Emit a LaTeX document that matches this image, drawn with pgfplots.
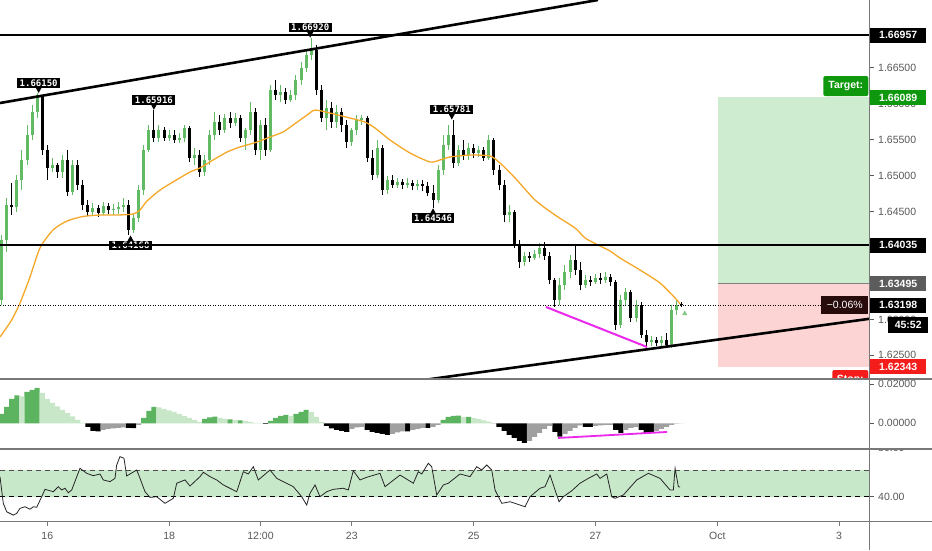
\documentclass[border=0pt]{standalone}
\usepackage{pgfplots}
\pgfplotsset{compat=1.18}
\usepackage{pgfplotstable}
\usepackage{fontspec}
\setmainfont{Liberation Sans}
\newfontfamily\monof{DejaVu Sans Mono}
\definecolor{cg}{RGB}{98,186,100}
\definecolor{ma}{RGB}{245,168,40}
\definecolor{mag}{RGB}{235,40,235}
\definecolor{posg}{RGB}{206,236,207}
\definecolor{posr}{RGB}{253,212,212}
\definecolor{tvg}{RGB}{14,152,14}
\definecolor{tvr}{RGB}{245,28,28}
\definecolor{dg}{RGB}{92,180,96}
\definecolor{lg}{RGB}{200,230,200}
\definecolor{gy}{RGB}{160,160,160}
\definecolor{band}{RGB}{200,232,202}
\definecolor{axc}{RGB}{120,120,120}
\definecolor{labc}{RGB}{88,88,88}
\definecolor{gbox}{RGB}{92,92,92}
\definecolor{darkm}{RGB}{40,12,12}
\newcommand\lf{\fontsize{10.5}{12}\selectfont}

\pgfplotstableread{
i o h l c
0 1.63270 1.64175 1.63200 1.64105
1 1.64105 1.64689 1.63938 1.64591
2 1.64591 1.64898 1.64452 1.64564
3 1.64564 1.65009 1.64494 1.64940
4 1.64940 1.65357 1.64800 1.65218
5 1.65218 1.65704 1.65148 1.65565
6 1.65565 1.65983 1.65496 1.65885
7 1.65885 1.66150 1.65802 1.66122
8 1.66095 1.66122 1.65287 1.65357
9 1.65357 1.65426 1.64940 1.65107
10 1.65107 1.65246 1.65051 1.65148
11 1.65148 1.65176 1.64968 1.65051
12 1.65051 1.65287 1.64968 1.65218
13 1.65218 1.65357 1.64717 1.64772
14 1.64772 1.65218 1.64730 1.65148
15 1.65148 1.65218 1.64800 1.64870
16 1.64870 1.64940 1.64522 1.64591
17 1.64591 1.64661 1.64439 1.64494
18 1.64494 1.64619 1.64439 1.64550
19 1.64550 1.64591 1.64425 1.64480
20 1.64480 1.64633 1.64452 1.64578
21 1.64578 1.64619 1.64466 1.64522
22 1.64522 1.64605 1.64452 1.64536
23 1.64536 1.64633 1.64466 1.64564
24 1.64564 1.64689 1.64494 1.64591
25 1.64591 1.64661 1.64168 1.64244
26 1.64244 1.64466 1.64200 1.64411
27 1.64411 1.64870 1.64355 1.64800
28 1.64800 1.65426 1.64730 1.65357
29 1.65357 1.65704 1.65329 1.65635
30 1.65635 1.65916 1.65468 1.65524
31 1.65524 1.65704 1.65468 1.65635
32 1.65635 1.65677 1.65482 1.65524
33 1.65524 1.65635 1.65482 1.65565
34 1.65565 1.65635 1.65454 1.65496
35 1.65496 1.65593 1.65454 1.65524
36 1.65524 1.65704 1.65468 1.65663
37 1.65663 1.65691 1.65190 1.65246
38 1.65246 1.65385 1.65148 1.65287
39 1.65287 1.65357 1.64982 1.65051
40 1.65051 1.65287 1.64996 1.65218
41 1.65218 1.65635 1.65148 1.65565
42 1.65565 1.65885 1.65496 1.65746
43 1.65746 1.65843 1.65565 1.65635
44 1.65635 1.65857 1.65593 1.65802
45 1.65802 1.65885 1.65663 1.65732
46 1.65732 1.65871 1.65691 1.65802
47 1.65802 1.65843 1.65468 1.65524
48 1.65524 1.65663 1.65357 1.65635
49 1.65635 1.66025 1.65565 1.65885
50 1.65885 1.65942 1.65287 1.65357
51 1.65357 1.65774 1.65218 1.65704
52 1.65704 1.65802 1.65274 1.65357
53 1.65357 1.66261 1.65329 1.66192
54 1.66192 1.66331 1.66053 1.66122
55 1.66122 1.66261 1.66025 1.66164
56 1.66164 1.66220 1.65997 1.66053
57 1.66053 1.66192 1.66025 1.66122
58 1.66122 1.66400 1.66053 1.66331
59 1.66331 1.66581 1.66261 1.66498
60 1.66498 1.66748 1.66442 1.66678
61 1.66678 1.66920 1.66609 1.66748
62 1.66748 1.66817 1.66122 1.66192
63 1.66192 1.66261 1.65746 1.65802
64 1.65802 1.66053 1.65635 1.65942
65 1.65942 1.66025 1.65663 1.65746
66 1.65746 1.65983 1.65663 1.65885
67 1.65885 1.65942 1.65607 1.65704
68 1.65704 1.65774 1.65385 1.65468
69 1.65468 1.65663 1.65413 1.65635
70 1.65635 1.65843 1.65565 1.65774
71 1.65774 1.65843 1.65704 1.65802
72 1.65802 1.65830 1.65190 1.65246
73 1.65246 1.65357 1.64940 1.65009
74 1.65009 1.65496 1.64968 1.65385
75 1.65385 1.65426 1.64730 1.64800
76 1.64800 1.64996 1.64744 1.64940
77 1.64940 1.65009 1.64829 1.64870
78 1.64870 1.64968 1.64829 1.64912
79 1.64912 1.64954 1.64815 1.64870
80 1.64870 1.64968 1.64829 1.64898
81 1.64898 1.64940 1.64800 1.64857
82 1.64857 1.64940 1.64800 1.64884
83 1.64884 1.64940 1.64786 1.64857
84 1.64857 1.64912 1.64717 1.64758
85 1.64758 1.64870 1.64546 1.64661
86 1.64661 1.65148 1.64619 1.65079
87 1.65079 1.65565 1.65009 1.65426
88 1.65426 1.65700 1.65357 1.65565
89 1.65565 1.65781 1.65107 1.65176
90 1.65176 1.65426 1.65135 1.65357
91 1.65357 1.65496 1.65218 1.65287
92 1.65287 1.65454 1.65218 1.65385
93 1.65385 1.65440 1.65246 1.65315
94 1.65315 1.65413 1.65260 1.65357
95 1.65357 1.65399 1.65204 1.65246
96 1.65246 1.65565 1.65218 1.65496
97 1.65496 1.65524 1.65009 1.65079
98 1.65079 1.65148 1.64800 1.64870
99 1.64870 1.64940 1.64355 1.64452
100 1.64452 1.64591 1.64355 1.64494
101 1.64494 1.64522 1.63994 1.64035
102 1.64035 1.64105 1.63715 1.63798
103 1.63798 1.63938 1.63743 1.63883
104 1.63883 1.63938 1.63798 1.63855
105 1.63855 1.63966 1.63826 1.63910
106 1.63910 1.64063 1.63855 1.63994
107 1.63994 1.64077 1.63826 1.63883
108 1.63883 1.63938 1.63492 1.63548
109 1.63548 1.63576 1.63173 1.63270
110 1.63270 1.63576 1.63200 1.63478
111 1.63478 1.63756 1.63409 1.63659
112 1.63659 1.63896 1.63576 1.63826
113 1.63826 1.64035 1.63617 1.63687
114 1.63687 1.63798 1.63409 1.63478
115 1.63478 1.63617 1.63437 1.63548
116 1.63548 1.63604 1.63465 1.63520
117 1.63520 1.63631 1.63492 1.63576
118 1.63576 1.63645 1.63492 1.63548
119 1.63548 1.63659 1.63506 1.63590
120 1.63590 1.63631 1.63465 1.63520
121 1.63520 1.63548 1.62852 1.62922
122 1.62922 1.63339 1.62881 1.63270
123 1.63270 1.63437 1.63200 1.63381
124 1.63381 1.63409 1.62964 1.63020
125 1.63020 1.63270 1.62964 1.63200
126 1.63200 1.63242 1.62741 1.62782
127 1.62782 1.62852 1.62616 1.62685
128 1.62685 1.62769 1.62630 1.62713
129 1.62713 1.62755 1.62630 1.62671
130 1.62671 1.62769 1.62630 1.62713
131 1.62713 1.62810 1.62602 1.62643
132 1.62643 1.63200 1.62602 1.63131
133 1.63131 1.63270 1.63061 1.63200
134 1.63210 1.63240 1.63170 1.63198
}\candles

\pgfplotstableread{
i p
-0.32 1.62755
1.98 1.62992
3.62 1.63228
5.59 1.63590
7.56 1.63994
10.12 1.64244
12.88 1.64369
16.03 1.64432
19.38 1.64452
22.73 1.64452
25.89 1.64466
27.27 1.64522
28.64 1.64647
31.21 1.64800
33.77 1.64912
37.12 1.65051
39.09 1.65107
41.65 1.65218
44.41 1.65329
46.97 1.65399
50.32 1.65468
52.88 1.65538
55.44 1.65607
57.41 1.65704
60.17 1.65843
61.75 1.65913
64.70 1.65871
68.64 1.65802
71.60 1.65746
73.57 1.65663
76.53 1.65496
80.47 1.65315
84.41 1.65190
86.38 1.65218
88.35 1.65260
92.29 1.65287
96.23 1.65274
98.20 1.65176
101.16 1.64968
105.10 1.64661
109.04 1.64452
112.98 1.64272
114.95 1.64133
117.51 1.64035
119.88 1.63952
121.85 1.63854
125.79 1.63687
129.73 1.63506
132.69 1.63298
133.68 1.63214
}\matab

\pgfplotstableread{
i v k
0 0.00477 0
1 0.00836 0
2 0.01247 0
3 0.01426 0
4 0.01375 1
5 0.01606 0
6 0.01708 0
7 0.01811 0
8 0.01554 1
9 0.01247 1
10 0.01041 1
11 0.00862 1
12 0.00682 1
13 0.00528 1
14 0.00349 1
15 0.00169 1
16 0.00015 1
17 -0.00190 2
18 -0.00395 2
19 -0.00421 2
20 -0.00344 3
21 -0.00292 3
22 -0.00267 3
23 -0.00241 3
24 -0.00215 3
25 -0.00241 2
26 -0.00250 2
27 -0.00087 3
28 0.00272 0
29 0.00631 0
30 0.00836 0
31 0.00810 1
32 0.00734 1
33 0.00657 1
34 0.00580 1
35 0.00477 1
36 0.00374 1
37 0.00272 1
38 0.00169 1
39 0.00067 1
40 0.00221 0
41 0.00298 0
42 0.00339 0
43 0.00272 1
44 0.00221 1
45 0.00195 0
46 0.00169 1
47 0.00144 0
48 0.00118 1
49 0.00067 1
50 0.00026 1
51 0.00010 1
52 -0.00030 2
53 0.00118 0
54 0.00272 0
55 0.00374 0
56 0.00426 0
57 0.00374 1
58 0.00477 0
59 0.00580 0
60 0.00682 0
61 0.00580 1
62 0.00323 1
63 0.00067 1
64 -0.00139 2
65 -0.00267 2
66 -0.00344 2
67 -0.00395 2
68 -0.00446 2
69 -0.00292 3
70 -0.00215 3
71 -0.00190 3
72 -0.00344 2
73 -0.00446 2
74 -0.00498 2
75 -0.00549 2
76 -0.00600 2
77 -0.00549 3
78 -0.00472 3
79 -0.00421 3
80 -0.00421 2
81 -0.00344 3
82 -0.00292 3
83 -0.00241 3
84 -0.00241 2
85 -0.00190 3
86 -0.00087 3
87 0.00169 0
88 0.00323 0
89 0.00374 0
90 0.00390 0
91 0.00323 1
92 0.00323 0
93 0.00272 1
94 0.00221 1
95 0.00144 1
96 0.00082 1
97 -0.00010 2
98 -0.00190 2
99 -0.00395 2
100 -0.00600 2
101 -0.00754 2
102 -0.00908 2
103 -0.01011 2
104 -0.00908 3
105 -0.00703 3
106 -0.00498 3
107 -0.00292 3
108 -0.00139 3
109 -0.00446 2
110 -0.00687 2
111 -0.00549 3
112 -0.00395 3
113 -0.00241 3
114 -0.00113 3
115 -0.00190 2
116 -0.00190 2
117 -0.00139 3
118 -0.00113 3
119 -0.00087 3
120 -0.00087 3
121 -0.00344 2
122 -0.00498 2
123 -0.00344 3
124 -0.00241 3
125 -0.00190 3
126 -0.00344 2
127 -0.00498 2
128 -0.00498 2
129 -0.00395 3
130 -0.00292 3
131 -0.00190 3
132 -0.00087 3
133 -0.00020 3
134 -0.00010 3
}\macd

\pgfplotstableread{
i r
-0.32 55.15
0.33 35.0
1.00 28.6
2.30 26.1
2.97 27.4
3.62 31.2
4.60 32.4
5.59 30.5
6.24 32.4
6.91 32.0
7.90 40.0
8.55 45.6
10.18 43.8
11.17 47.6
11.84 45.1
12.49 46.4
13.14 43.0
13.81 45.1
15.44 61.5
16.76 57.7
18.06 55.9
19.38 57.2
20.03 52.7
21.35 51.4
22.34 53.9
22.67 64.0
23.32 70.3
24.11 69.1
24.64 55.7
26.61 60.2
27.27 53.9
28.25 43.8
29.24 39.5
30.56 40.0
32.19 35.0
33.83 38.8
34.50 50.2
36.13 52.7
37.12 48.1
39.09 55.2
39.74 58.5
41.06 55.2
42.38 52.7
43.68 48.9
46.32 43.8
47.62 58.9
48.60 57.2
49.59 62.7
50.58 52.7
52.88 60.2
54.20 53.9
57.47 47.6
59.13 40.0
60.11 33.7
60.76 42.6
61.75 48.9
62.73 40.0
64.05 43.8
65.35 45.6
67.32 46.4
68.31 45.1
69.29 59.7
70.61 52.7
71.93 54.7
74.56 57.7
75.54 47.6
78.50 56.4
81.12 50.2
82.10 58.9
82.77 57.2
84.07 65.3
84.74 62.7
85.73 41.3
87.03 48.9
88.01 50.2
90.32 57.2
92.29 55.2
93.61 62.7
94.59 60.2
95.58 64.0
96.57 60.2
97.22 45.1
98.54 35.0
100.17 36.2
102.14 33.7
103.13 32.4
104.11 40.0
106.08 46.4
107.07 47.6
108.05 56.4
109.04 45.1
109.83 36.2
110.67 40.0
112.33 44.5
113.96 50.2
115.60 53.9
117.26 57.2
117.91 53.9
119.23 57.2
120.21 40.0
120.86 38.8
122.50 41.3
125.14 52.7
127.43 57.7
129.73 53.9
131.70 45.1
132.35 45.1
132.69 61.5
133.34 47.6
133.68 47.3
}\rsi

\pgfplotsset{
  tv/.style={scale only axis, width=869pt, anchor=south west,
    xmin=-0.32, xmax=170.9, hide axis, clip mode=individual},
  wick/.style={line width=1pt, quiver={u=0,v=\thisrow{h}-\thisrow{l}}},
  body/.style={line width=3pt, quiver={u=0,v=\thisrow{c}-\thisrow{o}}},
  up/.style={restrict expr to domain={\thisrow{c}-\thisrow{o}}{0:1}},
  dn/.style={restrict expr to domain={\thisrow{c}-\thisrow{o}}{-1:-0.000001}},
  hb/.style={ybar, bar width=1, bar shift=0pt, draw=none},
}
\tikzset{
  plab/.style={fill=black, text=white, font=\monof\bfseries\fontsize{9}{9}\selectfont,
    inner xsep=2.5pt, inner ysep=1.6pt, text height=6.5pt, text depth=0pt},
  rl/.style={anchor=west, xshift=9pt, text=labc, font=\lf, inner sep=0pt},
  pbox/.style={anchor=west, xshift=1pt, minimum width=56pt, minimum height=15pt,
    inner sep=0pt, text=white, font=\bfseries\lf},
  cbox/.style={anchor=east, xshift=-0.5pt, inner sep=0pt, text=white, font=\bfseries\lf},
  xl/.style={anchor=base, yshift=-18pt, text=labc, font=\lf, inner sep=0pt},
}

\begin{document}
\begin{tikzpicture}
\useasboundingbox (0pt,0pt) rectangle (932pt,550pt);
\fill[white] (0pt,0pt) rectangle (932pt,550pt);

% ---------------- main price panel ----------------
\begin{axis}[tv, at={(0pt,171pt)}, height=379pt, ymin=1.62171, ymax=1.67444]
\addplot[fill=posg, draw=none] coordinates {(141.2,1.66089)(170.9,1.66089)(170.9,1.63495)(141.2,1.63495)};
\addplot[fill=posr, draw=none] coordinates {(141.2,1.63495)(170.9,1.63495)(170.9,1.62343)(141.2,1.62343)};
\addplot[gray, line width=0.8pt] coordinates {(141.2,1.63495)(170.9,1.63495)};

\addplot[cg, wick, up] table[x=i,y=l]{\candles};
\addplot[cg, body, up] table[x=i,y=o]{\candles};
\addplot[black, wick, dn] table[x=i,y=l]{\candles};
\addplot[black, body, dn] table[x=i,y=o]{\candles};

\addplot[ma, line width=1.3pt, smooth, tension=0.4] table[x=i,y=p]{\matab};

% annotation labels
\node[plab, anchor=south, yshift=5pt] at (axis cs:7.3,1.66150) {1.66150};
\fill (axis cs:7.3,1.66150) -- ++(-3pt,5.5pt) -- ++(6pt,0pt) -- cycle;
\node[plab, anchor=south, yshift=5pt] at (axis cs:30,1.65916) {1.65916};
\fill (axis cs:30,1.65916) -- ++(-3pt,5.5pt) -- ++(6pt,0pt) -- cycle;
\node[plab, anchor=south, yshift=5pt] at (axis cs:60.8,1.66920) {1.66920};
\fill (axis cs:60.8,1.66920) -- ++(-3pt,5.5pt) -- ++(6pt,0pt) -- cycle;
\node[plab, anchor=south, yshift=5pt] at (axis cs:88.7,1.65781) {1.65781};
\fill (axis cs:88.7,1.65781) -- ++(-3pt,5.5pt) -- ++(6pt,0pt) -- cycle;
\node[plab, anchor=north, yshift=-5pt] at (axis cs:85,1.64546) {1.64546};
\fill (axis cs:85,1.64546) -- ++(-3pt,-5.5pt) -- ++(6pt,0pt) -- cycle;
\node[plab, anchor=north, yshift=-5pt] at (axis cs:25.4,1.64168) {1.64168};
\fill (axis cs:25.4,1.64168) -- ++(-3pt,-5.5pt) -- ++(6pt,0pt) -- cycle;

% horizontal levels
\addplot[black, line width=1.6pt] coordinates {(-0.32,1.66957)(170.9,1.66957)};
\addplot[black, line width=1.6pt] coordinates {(-0.32,1.64035)(170.9,1.64035)};
% trend lines
\addplot[black, line width=2.6pt] coordinates {(-0.32,1.66011)(117.5,1.67444)};
\addplot[black, line width=2.6pt] coordinates {(78.5,1.62112)(170.9,1.63008)};
\addplot[mag, line width=2pt] coordinates {(107.26,1.63173)(127.17,1.62616)};
% current price
\addplot[black, line width=0.7pt, dash pattern=on 1pt off 1.5pt] coordinates {(-0.32,1.63198)(161.4,1.63198)};
\addplot[only marks, mark=triangle*, mark size=2.6pt, color=cg!80] coordinates {(134.6,1.63080)};

% right scale labels (only the ones that show)
\node[rl] at (axis cs:170.9,1.665) {1.66500};
\node[rl] at (axis cs:170.9,1.660) {1.66000};
\node[rl] at (axis cs:170.9,1.655) {1.65500};
\node[rl] at (axis cs:170.9,1.650) {1.65000};
\node[rl] at (axis cs:170.9,1.645) {1.64500};
\node[rl] at (axis cs:170.9,1.630) {1.63000};
\node[rl] at (axis cs:170.9,1.625) {1.62500};
\draw[labc, line width=0.8pt] (axis cs:170.9,1.665) -- ++(5pt,0pt);
\draw[labc, line width=0.8pt] (axis cs:170.9,1.655) -- ++(5pt,0pt);
\draw[labc, line width=0.8pt] (axis cs:170.9,1.650) -- ++(5pt,0pt);
\draw[labc, line width=0.8pt] (axis cs:170.9,1.645) -- ++(5pt,0pt);
\draw[labc, line width=0.8pt] (axis cs:170.9,1.630) -- ++(5pt,0pt);
\draw[labc, line width=0.8pt] (axis cs:170.9,1.625) -- ++(5pt,0pt);

\node[pbox, fill=black] at (axis cs:170.9,1.66957) {1.66957};
\node[pbox, fill=tvg] at (axis cs:170.9,1.66089) {1.66089};
\node[pbox, fill=black] at (axis cs:170.9,1.64035) {1.64035};
\node[pbox, fill=gbox] at (axis cs:170.9,1.63495) {1.63495};
\node[pbox, fill=black] at (axis cs:170.9,1.63198) {1.63198};
\node[pbox, fill=black, minimum width=40pt, minimum height=16pt, xshift=18pt] at (axis cs:170.9,1.62922) {45:52};
\node[pbox, fill=tvr] at (axis cs:170.9,1.62343) {1.62343};

\node[cbox, fill=tvg, rounded corners=2pt, minimum width=45pt, minimum height=20pt] at (axis cs:170.9,1.66247) {Target:};
\node[cbox, fill=darkm, minimum width=47pt, minimum height=18pt, font=\lf] at (axis cs:170.9,1.63198) {−0.06\%};
\node[cbox, fill=tvr, rounded corners=2pt, minimum width=36pt, minimum height=20pt] at (axis cs:170.9,1.62157) {Stop:};
\end{axis}

% ---------------- MACD histogram ----------------
\begin{axis}[tv, at={(0pt,101pt)}, height=70pt, ymin=-0.0132, ymax=0.0227]
\addplot[fill=white, draw=none] coordinates {(-0.32,-0.0132)(170.9,-0.0132)(170.9,0.0227)(-0.32,0.0227)};
\addplot[hb, fill=dg, restrict expr to domain={\thisrow{k}}{0:0}] table[x=i,y=v]{\macd};
\addplot[hb, fill=lg, restrict expr to domain={\thisrow{k}}{1:1}] table[x=i,y=v]{\macd};
\addplot[hb, fill=black, restrict expr to domain={\thisrow{k}}{2:2}] table[x=i,y=v]{\macd};
\addplot[hb, fill=gy, restrict expr to domain={\thisrow{k}}{3:3}] table[x=i,y=v]{\macd};
\addplot[mag, line width=1.8pt] coordinates {(109.63,-0.00754)(131.11,-0.00446)};
\node[rl] at (axis cs:170.9,0.02) {0.02000};
\node[rl] at (axis cs:170.9,0) {0.00000};
\draw[labc, line width=0.8pt] (axis cs:170.9,0.02) -- ++(5pt,0pt);
\draw[labc, line width=0.8pt] (axis cs:170.9,0) -- ++(5pt,0pt);
\end{axis}

% ---------------- RSI ----------------
\begin{axis}[tv, at={(0pt,28.3pt)}, height=72.7pt, ymin=21.1, ymax=76.1]
\addplot[fill=band, draw=none] coordinates {(-0.32,40)(170.9,40)(170.9,60)(-0.32,60)};
\addplot[black!70, line width=0.8pt, dash pattern=on 5pt off 4pt] coordinates {(-0.32,60)(170.9,60)};
\addplot[black, line width=1pt, dash pattern=on 5pt off 4pt] coordinates {(-0.32,40)(170.9,40)};
\addplot[black!85, line width=0.8pt] table[x=i,y=r]{\rsi};
\node[rl] at (axis cs:170.9,40) {40.00};
\draw[labc, line width=0.8pt] (axis cs:170.9,40) -- ++(5pt,0pt);
\node[xl] at (axis cs:9,21.1) {16};
\node[xl] at (axis cs:33,21.1) {18};
\node[xl] at (axis cs:51,21.1) {12:00};
\node[xl] at (axis cs:69,21.1) {23};
\node[xl] at (axis cs:93,21.1) {25};
\node[xl] at (axis cs:117,21.1) {27};
\node[xl] at (axis cs:141,21.1) {Oct};
\node[xl] at (axis cs:165,21.1) {3};
\draw[axc, line width=0.8pt] (axis cs:9,21.1) -- ++(0pt,-4pt);
\draw[axc, line width=0.8pt] (axis cs:33,21.1) -- ++(0pt,-4pt);
\draw[axc, line width=0.8pt] (axis cs:51,21.1) -- ++(0pt,-4pt);
\draw[axc, line width=0.8pt] (axis cs:69,21.1) -- ++(0pt,-4pt);
\draw[axc, line width=0.8pt] (axis cs:93,21.1) -- ++(0pt,-4pt);
\draw[axc, line width=0.8pt] (axis cs:117,21.1) -- ++(0pt,-4pt);
\draw[axc, line width=0.8pt] (axis cs:141,21.1) -- ++(0pt,-4pt);
\draw[axc, line width=0.8pt] (axis cs:165,21.1) -- ++(0pt,-4pt);
\end{axis}

\begin{scope}
\clip (870pt,28.3pt) rectangle (932pt,101pt);
\node[anchor=west, text=labc, font=\lf, inner sep=0pt] at (878pt,102pt) {80.00};
\end{scope}

% panel separators and price scale line
\draw[axc, line width=1.2pt] (0pt,171pt) -- (932pt,171pt);
\draw[axc, line width=1.2pt] (0pt,101pt) -- (932pt,101pt);
\draw[axc, line width=1.2pt] (0pt,28.3pt) -- (932pt,28.3pt);
\draw[axc, line width=1pt] (869pt,0pt) -- (869pt,550pt);
\end{tikzpicture}
\end{document}
